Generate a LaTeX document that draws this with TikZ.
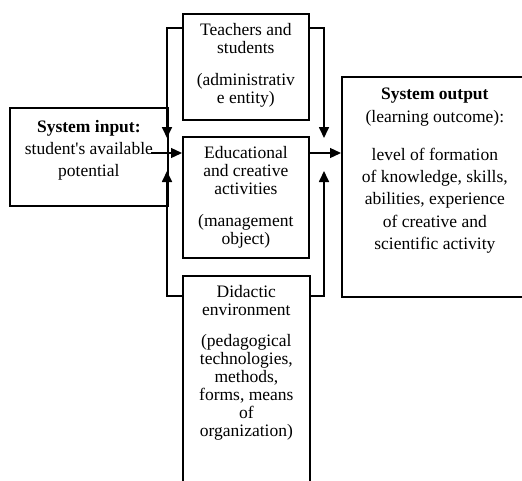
\documentclass[tikz,border=0pt]{standalone}
\usepackage{fontspec}
\setmainfont{Liberation Serif}
\usetikzlibrary{arrows.meta,positioning}

\begin{document}
\begin{tikzpicture}[x=1pt,y=-1pt]
\tikzset{frame/.style={draw,line width=1.7pt,inner sep=0pt,anchor=north west}}
\tikzset{caption/.style={align=center,inner sep=0pt,font=\fontsize{17.5}{18}\selectfont}}
\tikzset{widecaption/.style={align=center,inner sep=0pt,font=\fontsize{17.5}{22.3}\selectfont}}
\tikzset{link/.style={line width=1.7pt,-{Triangle[length=11pt,width=10pt]}}}
\useasboundingbox (0,0) rectangle (522,480);
% boxes
\node[frame,minimum width=126pt,minimum height=106pt] (teachers) at (182,13) {};
\node[frame,minimum width=126pt,minimum height=121pt] (activities) at (182,136) {};
\node[frame,minimum width=127pt,minimum height=215pt] (environment) at (182,275) {};
\node[frame,minimum width=158pt,minimum height=98pt] (input) at (9,107) {};
\node[frame,minimum width=186pt,minimum height=220pt] (output) at (341,76) {};
% texts
\node[caption,below=10pt of teachers.north] (teachers-text)
{Teachers and\\students\\[14pt](administrativ\\e entity)};
\node[caption,below=10pt of activities.north] (activities-text)
{Educational\\and creative\\activities\\[14pt](management\\object)};
\node[caption,below=10pt of environment.north] (environment-text)
{Didactic\\environment\\[13.5pt](pedagogical\\technologies,\\methods,\\forms, means\\of\\organization)};
\node[widecaption,below=13pt of input.north] (input-text)
{\textbf{System input:}\\student\textquotesingle s available\\potential};
\node[widecaption,below=12pt of output.north] (output-text)
{\textbf{System output}\\(learning outcome):\\[16pt]level of formation\\of knowledge, skills,\\abilities, experience\\of creative and\\scientific activity};
% arrows
\coordinate (in-top) at (167,138);
\coordinate (in-bottom) at (167,171);
\coordinate (out-top) at (324,138);
\coordinate (out-bottom) at (324,171);
\coordinate (start) at (151,153);
\draw[link] ([yshift=-15pt]teachers.north west) -| (in-top);
\draw[link] ([yshift=-15pt]teachers.north east) -| (out-top);
\draw[link] ([yshift=-21pt]environment.north west) -| (in-bottom);
\draw[link] ([yshift=-21pt]environment.north east) -| (out-bottom);
\draw[link,line width=1.3pt] (start) -- (start -| activities.west);
\draw[link,line width=1.3pt] (activities.east |- start) -- (output.west |- start);
\end{tikzpicture}
\end{document}
